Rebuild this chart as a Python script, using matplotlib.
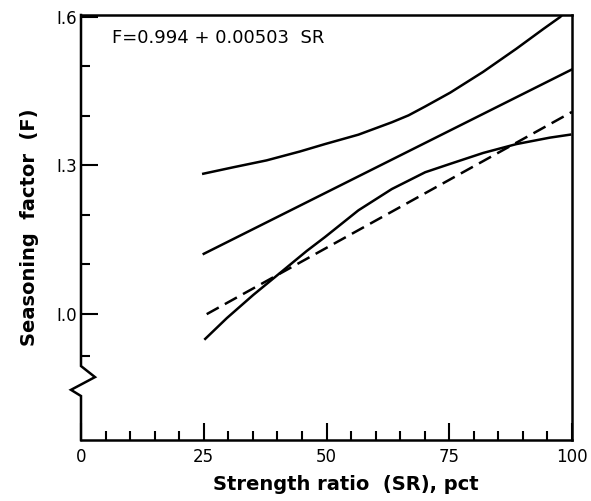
import numpy as np
import matplotlib
matplotlib.use("Agg")
from matplotlib import pyplot as plt

sr_fit = [25, 100]
f_fit = [1.121, 1.494]

sr_upper = [24.9, 31.0, 37.8, 44.6, 49.7, 56.5, 63.3, 66.7, 70.1, 75.2, 81.9, 88.7, 94.2, 97.6, 100]
f_upper = [1.283, 1.296, 1.310, 1.328, 1.343, 1.362, 1.387, 1.401, 1.419, 1.447, 1.489, 1.536, 1.576, 1.600, 1.625]

sr_lower = [25.3, 29.7, 35.1, 40.5, 46.0, 49.7, 56.5, 63.3, 70.1, 75.2, 81.9, 88.7, 95.5, 99.6]
f_lower = [0.949, 0.991, 1.038, 1.082, 1.127, 1.155, 1.209, 1.252, 1.286, 1.303, 1.325, 1.343, 1.356, 1.362]

sr_dash = [25.6, 100]
f_dash = [0.999, 1.408]

x_major = [0, 25, 50, 75, 100]
x_minor = [v for v in range(5, 100, 5) if v % 25]
y_major = [1.0, 1.3, 1.6]
y_minor = [1.1, 1.2, 1.4, 1.5, 0.914]

fig = plt.figure(figsize=(5.91, 5.01), dpi=100)
ax = fig.add_axes([81 / 591, 1 - 440 / 501, 491 / 591, 425 / 501])

lw = 1.8
ax.plot(sr_upper, f_upper, color='black', lw=lw)
ax.plot(sr_fit, f_fit, color='black', lw=lw)
ax.plot(sr_lower, f_lower, color='black', lw=lw)
ax.plot(sr_dash, f_dash, color='black', lw=lw, dashes=(5.5, 2.8))

ax.set_xlim(0, 100)
ax.set_ylim(0.7445, 1.604)

ax.set_xticks(x_major)
ax.set_xticks(x_minor, minor=True)
ax.set_yticks(y_major)
ax.set_yticks(y_minor, minor=True)
ax.set_xticklabels(['0', '25', '50', '75', '100'])
ax.set_yticklabels(['I.0', 'I.3', 'I.6'])
ax.tick_params(which='major', direction='in', length=12, width=1.5, labelsize=12, pad=6)
ax.tick_params(which='minor', direction='in', length=6.5, width=1.5)
ax.tick_params(axis='y', which='major', pad=3)

for side in ['top', 'right', 'bottom']:
    ax.spines[side].set_linewidth(1.8)
ax.spines['left'].set_visible(False)

# broken left axis drawn by hand
bx = [0, 0, 0.0285, -0.0204, 0, 0]
by = [1, 0.174, 0.148, 0.118, 0.1035, 0]
ax.plot(bx, by, color='black', lw=1.8, transform=ax.transAxes, clip_on=False,
        solid_joinstyle='miter')

ax.text(0.063, 0.945, 'F=0.994 + 0.00503  SR', transform=ax.transAxes,
        fontsize=13, va='center', ha='left')

ax.set_xlabel('Strength ratio  (SR), pct', fontsize=14, fontweight='bold')
ax.xaxis.set_label_coords(0.54, -0.083)
ax.set_ylabel('Seasoning  factor  (F)', fontsize=14, fontweight='bold', labelpad=12)

fig.savefig('out.png', dpi=100)
